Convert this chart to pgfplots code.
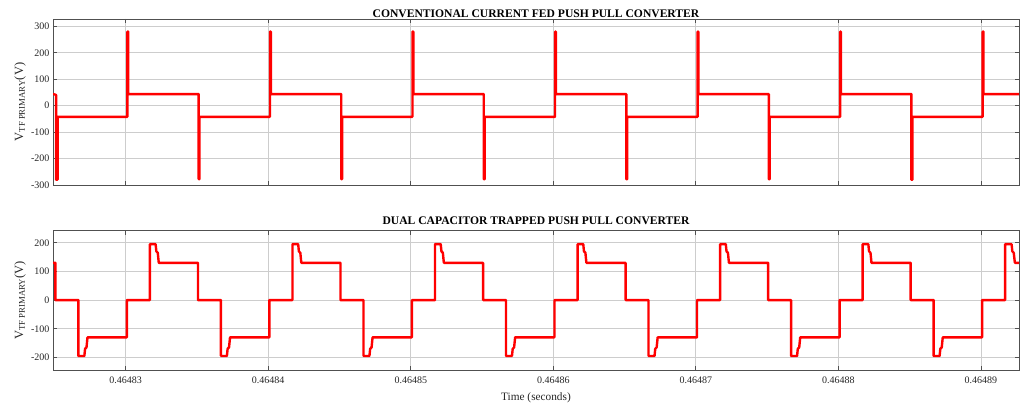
\documentclass[border=0pt]{standalone}
\usepackage{pgfplots}
\pgfplotsset{compat=1.18}
\usepackage{fontspec}
\setmainfont{Liberation Serif}
\definecolor{framec}{RGB}{80,80,80}
\definecolor{gridc}{RGB}{205,205,205}
\definecolor{tickc}{RGB}{38,38,38}
\pgfplotsset{
  myax/.style={
    anchor=south west, scale only axis, width=966pt,
    xmin=2.49, xmax=9.267,
    xtick={3,4,5,6,7,8,9},
    grid=major,
    major grid style={draw=gridc, line width=0.8pt},
    axis line style={draw=framec, line width=0.8pt},
    tick style={draw=framec, line width=0.8pt},
    major tick length=4pt,
    tick align=inside,
    ticklabel style={font=\fontsize{10}{12}\selectfont, text=tickc},
    xticklabel style={yshift=-3pt},
    /pgf/number format/assume math mode=true,
    ylabel style={font=\fontsize{12.5}{14}\selectfont, text=tickc, at={(axis description cs:-0.034,0.5)}, anchor=center},
    title style={font=\bfseries\fontsize{11.6}{13}\selectfont, at={(0.5,1)}, anchor=base},
    clip=true,
  }
}
\begin{document}
\begin{tikzpicture}
\path[use as bounding box] (0,0) rectangle (1020pt,407pt);
\begin{axis}[myax, at={(53pt,222pt)}, height=166pt,
  ymin=-300, ymax=328, ytick={-300,-200,-100,0,100,200,300},
  xticklabels={},
  ylabel={V\textsubscript{TF PRIMARY}(V)},
  title style={yshift=-4.5pt},
  title={CONVENTIONAL CURRENT FED PUSH PULL CONVERTER}]
\addplot[red, line width=2.4pt, line join=round] coordinates {
(2.49,44) (2.505,42) (2.512,40) (2.512,-280) (2.522,-280) (2.522,-42)
(3.012,-42) (3.012,280) (3.018,280) (3.018,44) (3.512,44) (3.512,-278) (3.518,-278) (3.518,-42)
(4.012,-42) (4.012,280) (4.018,280) (4.018,44) (4.512,44) (4.512,-278) (4.518,-278) (4.518,-42)
(5.012,-42) (5.012,280) (5.018,280) (5.018,44) (5.512,44) (5.512,-278) (5.518,-278) (5.518,-42)
(6.012,-42) (6.012,280) (6.018,280) (6.018,44) (6.512,44) (6.512,-278) (6.518,-278) (6.518,-42)
(7.012,-42) (7.012,280) (7.018,280) (7.018,44) (7.512,44) (7.512,-278) (7.518,-278) (7.518,-42)
(8.012,-42) (8.012,280) (8.018,280) (8.018,44) (8.512,44) (8.512,-280) (8.520,-280) (8.520,-42)
(9.012,-42) (9.012,280) (9.018,280) (9.018,44) (9.267,44)
};
\end{axis}
\begin{axis}[myax, at={(53pt,37pt)}, height=139.3pt,
  ymin=-244, ymax=242, ytick={-200,-100,0,100,200},
  xticklabels={0.46483,0.46484,0.46485,0.46486,0.46487,0.46488,0.46489},
  xlabel={Time (seconds)},
  xlabel style={font=\fontsize{11.3}{13}\selectfont, text=tickc, yshift=-2pt},
  ylabel={V\textsubscript{TF PRIMARY}(V)},
  title style={yshift=0.5pt},
  title={DUAL CAPACITOR TRAPPED PUSH PULL CONVERTER}]
\addplot[red, line width=2.4pt, line join=round] coordinates {
(2.49,130) (2.507,130) (2.507,0) (2.668,0) (2.668,-195) (2.71,-195) (2.715,-170) (2.725,-165) (2.732,-130)
(3.008,-130) (3.008,0) (3.17,0) (3.17,195) (3.21,195) (3.215,170) (3.225,165) (3.232,130) (3.507,130) (3.507,0) (3.668,0) (3.668,-195) (3.71,-195) (3.715,-170) (3.725,-165) (3.732,-130)
(4.008,-130) (4.008,0) (4.17,0) (4.17,195) (4.21,195) (4.215,170) (4.225,165) (4.232,130) (4.507,130) (4.507,0) (4.668,0) (4.668,-195) (4.71,-195) (4.715,-170) (4.725,-165) (4.732,-130)
(5.008,-130) (5.008,0) (5.17,0) (5.17,195) (5.21,195) (5.215,170) (5.225,165) (5.232,130) (5.507,130) (5.507,0) (5.668,0) (5.668,-195) (5.71,-195) (5.715,-170) (5.725,-165) (5.732,-130)
(6.008,-130) (6.008,0) (6.17,0) (6.17,195) (6.21,195) (6.215,170) (6.225,165) (6.232,130) (6.507,130) (6.507,0) (6.668,0) (6.668,-195) (6.71,-195) (6.715,-170) (6.725,-165) (6.732,-130)
(7.008,-130) (7.008,0) (7.17,0) (7.17,195) (7.21,195) (7.215,170) (7.225,165) (7.232,130) (7.507,130) (7.507,0) (7.668,0) (7.668,-195) (7.71,-195) (7.715,-170) (7.725,-165) (7.732,-130)
(8.008,-130) (8.008,0) (8.17,0) (8.17,195) (8.21,195) (8.215,170) (8.225,165) (8.232,130) (8.507,130) (8.507,0) (8.668,0) (8.668,-195) (8.71,-195) (8.715,-170) (8.725,-165) (8.732,-130)
(9.008,-130) (9.008,0) (9.17,0) (9.17,195) (9.215,195) (9.22,170) (9.23,165) (9.238,130) (9.267,130)
};
\end{axis}
\end{tikzpicture}
\end{document}
